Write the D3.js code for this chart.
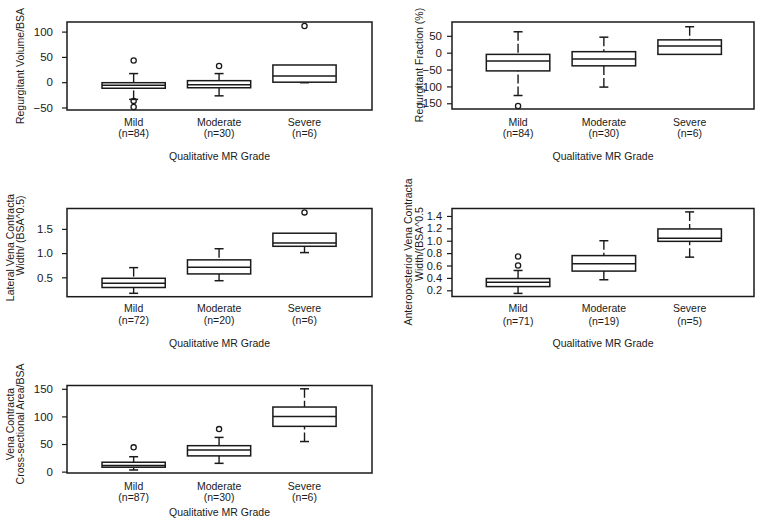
<!DOCTYPE html>
<html><head><meta charset="utf-8">
<script src="https://cdn.jsdelivr.net/npm/d3@7"></script>
<style>
html,body{margin:0;padding:0;background:#fff;}
text{font-family:"Liberation Sans",Arial,Helvetica,sans-serif;fill:#1a1a1a;}
</style></head>
<body>
<svg id="chart" width="762" height="521"></svg>
<script>
// ---------- data ----------
const categories = ["Mild", "Moderate", "Severe"];
const xTitle = "Qualitative MR Grade";

// Panel 1: Regurgitant Volume/BSA
const p1Title = ["Regurgitant Volume/BSA"];
const p1N = [84, 30, 6];
const p1Q1 = [-12, -11, 0];
const p1Median = [-6, -5, 12];
const p1Q3 = [-1, 3, 34];
const p1WhiskerLo = [-34, -27, -1];
const p1WhiskerHi = [17, 17, 34];
const p1Outliers = [[43, -37, -49], [32], [111]];
const p1Ticks = [-50, 0, 50, 100];

// Panel 2: Regurgitant Fraction (%)
const p2Title = ["Regurgitant Fraction (%)"];
const p2N = [84, 30, 6];
const p2Q1 = [-54, -39, -5];
const p2Median = [-25, -19, 20];
const p2Q3 = [-5, 3, 38];
const p2WhiskerLo = [-127, -102, -5];
const p2WhiskerHi = [62, 46, 77];
const p2Outliers = [[-158], [], []];
const p2Ticks = [-150, -100, -50, 0, 50];

// Panel 3: Lateral Vena Contracta Width/(BSA^0.5)
const p3Title = ["Lateral Vena Contracta", "Width/ (BSA^0.5)"];
const p3N = [72, 20, 6];
const p3Q1 = [0.29, 0.57, 1.14];
const p3Median = [0.38, 0.71, 1.21];
const p3Q3 = [0.48, 0.86, 1.41];
const p3WhiskerLo = [0.17, 0.43, 1.01];
const p3WhiskerHi = [0.70, 1.09, 1.41];
const p3Outliers = [[], [], [1.84]];
const p3Ticks = [0.5, 1.0, 1.5];

// Panel 4: Anteroposterior Vena Contracta Width/(BSA^0.5)
const p4Title = ["Anteroposterior Vena Contracta", "Width/(BSA^0.5"];
const p4N = [71, 19, 5];
const p4Q1 = [0.26, 0.51, 0.99];
const p4Median = [0.33, 0.63, 1.04];
const p4Q3 = [0.39, 0.76, 1.19];
const p4WhiskerLo = [0.15, 0.37, 0.735];
const p4WhiskerHi = [0.52, 1.0, 1.465];
const p4Outliers = [[0.60, 0.745], [], []];
const p4Ticks = [0.2, 0.4, 0.6, 0.8, 1.0, 1.2, 1.4];

// Panel 5: Vena Contracta Cross-sectional Area/BSA
const p5Title = ["Vena Contracta", "Cross-sectional Area/BSA"];
const p5N = [87, 30, 6];
const p5Q1 = [8, 28.5, 82];
const p5Median = [11, 39, 100];
const p5Q3 = [17, 47, 117];
const p5WhiskerLo = [3, 15, 54.5];
const p5WhiskerHi = [27, 62, 150];
const p5Outliers = [[44], [77], []];
const p5Ticks = [0, 50, 100, 150];

// ---------- layout ----------
const svg = d3.select("#chart");
const INK = "#1a1a1a";

const panels = [
  {title:p1Title, n:p1N, q1:p1Q1, med:p1Median, q3:p1Q3, wlo:p1WhiskerLo, whi:p1WhiskerHi, out:p1Outliers, ticks:p1Ticks, fmt:d3.format("d"),
   x0:67, x1:372, y0:22, y1:110, yDom:[-55,119], xDom:[0.22,3.79], tickFont:11.5, tickPad:9,
   titlePos:[[20,66]], labOff:[16,26.5,50]},
  {title:p2Title, n:p2N, q1:p2Q1, med:p2Median, q3:p2Q3, wlo:p2WhiskerLo, whi:p2WhiskerHi, out:p2Outliers, ticks:p2Ticks, fmt:d3.format("d"),
   x0:452, x1:754, y0:22, y1:109, yDom:[-167,91], xDom:[0.23,3.75], tickFont:11.5, tickPad:5,
   titlePos:[[419,65]], labOff:[17,27.5,51]},
  {title:p3Title, n:p3N, q1:p3Q1, med:p3Median, q3:p3Q3, wlo:p3WhiskerLo, whi:p3WhiskerHi, out:p3Outliers, ticks:p3Ticks, fmt:d3.format(".1f"),
   x0:67, x1:372, y0:208.5, y1:296.7, yDom:[0.1,1.92], xDom:[0.22,3.79], tickFont:11.5, tickPad:9,
   titlePos:[[9.5,247.5],[19.5,235.5]], labOff:[15.5,27,50.5]},
  {title:p4Title, n:p4N, q1:p4Q1, med:p4Median, q3:p4Q3, wlo:p4WhiskerLo, whi:p4WhiskerHi, out:p4Outliers, ticks:p4Ticks, fmt:d3.format(".1f"),
   x0:452, x1:754, y0:208.5, y1:296.5, yDom:[0.1,1.52], xDom:[0.23,3.75], tickFont:11, tickPad:5,
   titlePos:[[408,252],[419,244]], labOff:[15.5,28,50.5]},
  {title:p5Title, n:p5N, q1:p5Q1, med:p5Median, q3:p5Q3, wlo:p5WhiskerLo, whi:p5WhiskerHi, out:p5Outliers, ticks:p5Ticks, fmt:d3.format("d"),
   x0:67, x1:372, y0:385.5, y1:473, yDom:[-2.5,156], xDom:[0.22,3.79], tickFont:11.5, tickPad:9,
   titlePos:[[10,424],[19.5,424]], labOff:[17,28,43]}
];

panels.forEach(p => {
  const g = svg.append("g");
  const x = d3.scaleLinear().domain(p.xDom).range([p.x0, p.x1]);
  const y = d3.scaleLinear().domain(p.yDom).range([p.y1, p.y0]);
  const bw = (x(1) - x(0)) * 0.37;   // half box width
  const cap = 4.5;

  // y axis
  const ax = g.append("g").attr("transform", `translate(${p.x0},0)`)
    .call(d3.axisLeft(y).tickValues(p.ticks).tickFormat(p.fmt).tickSize(5).tickPadding(p.tickPad));
  ax.select(".domain").remove();
  ax.selectAll(".tick line").attr("stroke", INK).attr("stroke-width", 1.2);
  ax.selectAll(".tick text").attr("font-size", p.tickFont).attr("fill", INK)
    .style("font-family", '"Liberation Sans",Arial,sans-serif');

  // frame
  g.append("rect").attr("x", p.x0).attr("y", p.y0)
    .attr("width", p.x1 - p.x0).attr("height", p.y1 - p.y0)
    .attr("fill", "none").attr("stroke", INK).attr("stroke-width", 1.5);

  categories.forEach((c, i) => {
    const cx = x(i + 1);
    // whiskers (dashed), drawn from cap toward box
    if (p.whi[i] > p.q3[i]) {
      g.append("line").attr("x1", cx).attr("x2", cx).attr("y1", y(p.whi[i])).attr("y2", y(p.q3[i]))
        .attr("stroke", INK).attr("stroke-width", 1.4).attr("stroke-dasharray", "9,3");
      g.append("line").attr("x1", cx - cap).attr("x2", cx + cap).attr("y1", y(p.whi[i])).attr("y2", y(p.whi[i]))
        .attr("stroke", INK).attr("stroke-width", 1.5);
    }
    if (p.wlo[i] < p.q1[i]) {
      g.append("line").attr("x1", cx).attr("x2", cx).attr("y1", y(p.wlo[i])).attr("y2", y(p.q1[i]))
        .attr("stroke", INK).attr("stroke-width", 1.4).attr("stroke-dasharray", "9,3");
      g.append("line").attr("x1", cx - cap).attr("x2", cx + cap).attr("y1", y(p.wlo[i])).attr("y2", y(p.wlo[i]))
        .attr("stroke", INK).attr("stroke-width", 1.5);
    }
    // box
    g.append("rect").attr("x", cx - bw).attr("y", y(p.q3[i]))
      .attr("width", 2 * bw).attr("height", y(p.q1[i]) - y(p.q3[i]))
      .attr("fill", "#fff").attr("stroke", INK).attr("stroke-width", 1.5);
    g.append("line").attr("x1", cx - bw).attr("x2", cx + bw)
      .attr("y1", y(p.med[i])).attr("y2", y(p.med[i]))
      .attr("stroke", INK).attr("stroke-width", 1.5);
    // outliers
    p.out[i].forEach(v => {
      g.append("circle").attr("cx", cx).attr("cy", y(v)).attr("r", 2.6)
        .attr("fill", "none").attr("stroke", INK).attr("stroke-width", 1.3);
    });
    // category labels
    g.append("text").attr("x", cx).attr("y", p.y1 + p.labOff[0]).attr("text-anchor", "middle")
      .attr("font-size", 10.5).text(c);
    g.append("text").attr("x", cx).attr("y", p.y1 + p.labOff[1]).attr("text-anchor", "middle")
      .attr("font-size", 10.5).text(`(n=${p.n[i]})`);
  });

  // x title
  g.append("text").attr("x", (p.x0 + p.x1) / 2).attr("y", p.y1 + p.labOff[2])
    .attr("text-anchor", "middle").attr("font-size", 10.5).text(xTitle);

  // y title (rotated)
  p.title.forEach((t, k) => {
    const [tx, ty] = p.titlePos[k];
    g.append("text").attr("transform", `translate(${tx},${ty}) rotate(-90)`)
      .attr("text-anchor", "middle").attr("dominant-baseline", "central")
      .attr("font-size", 10.5).text(t);
  });
});
</script>
</body></html>
